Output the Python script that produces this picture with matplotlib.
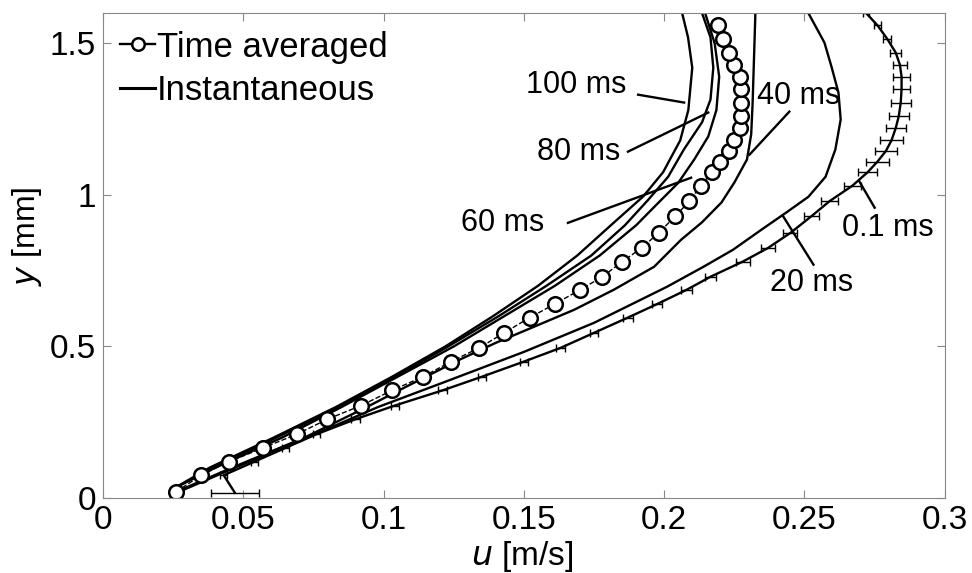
import matplotlib
matplotlib.use("Agg")
import matplotlib.pyplot as plt

plt.rcParams['font.family'] = ['Liberation Sans', 'DejaVu Sans']

# time averaged profile (circles)
avg_y = [0.02, 0.075, 0.12, 0.165, 0.21, 0.26, 0.305, 0.355, 0.40, 0.45, 0.495, 0.545,
         0.595, 0.64, 0.687, 0.73, 0.78, 0.825, 0.875, 0.93, 0.98, 1.03, 1.075, 1.11,
         1.145, 1.18, 1.22, 1.26, 1.305, 1.35, 1.39, 1.43, 1.47, 1.515, 1.56]
avg_u = [0.026, 0.035, 0.045, 0.057, 0.069, 0.080, 0.092, 0.103, 0.114, 0.124, 0.134, 0.143,
         0.152, 0.161, 0.170, 0.178, 0.185, 0.192, 0.198, 0.204, 0.209, 0.213, 0.217, 0.220,
         0.223, 0.225, 0.227, 0.2275, 0.2275, 0.2275, 0.227, 0.225, 0.223, 0.221, 0.219]

# instantaneous profiles
y_01 = [0.017, 0.075, 0.12, 0.165, 0.21, 0.26, 0.305, 0.355, 0.40, 0.45, 0.495, 0.545,
        0.595, 0.64, 0.687, 0.73, 0.78, 0.825, 0.875, 0.93, 0.98, 1.03, 1.075, 1.11,
        1.145, 1.18, 1.22, 1.26, 1.305, 1.35, 1.39, 1.43, 1.47, 1.515, 1.56, 1.60]
u_01 = [0.047, 0.043, 0.054, 0.065, 0.076, 0.090, 0.104, 0.121, 0.135, 0.150, 0.163, 0.175,
        0.187, 0.1975, 0.208, 0.2165, 0.228, 0.237, 0.245, 0.2525, 0.259, 0.267, 0.2725, 0.276,
        0.279, 0.281, 0.2825, 0.2836, 0.2843, 0.2846, 0.2846, 0.284, 0.2825, 0.2795, 0.276, 0.272]
err_01 = [0.0085, 0.0012, 0.0012, 0.0012, 0.0012, 0.0015, 0.0015, 0.0015, 0.0015, 0.0015, 0.0015, 0.0015,
          0.0018, 0.0018, 0.002, 0.002, 0.0025, 0.0025, 0.0025, 0.0025, 0.003, 0.003, 0.0035, 0.004,
          0.004, 0.004, 0.0035, 0.0035, 0.0035, 0.003, 0.003, 0.0025, 0.002, 0.0015, 0.0012, 0.001]

y_20 = [0.02, 0.1, 0.2, 0.3, 0.38, 0.482, 0.578, 0.697, 0.763, 0.819, 0.885, 0.942,
        0.994, 1.06, 1.15, 1.249, 1.338, 1.424, 1.503, 1.60]
u_20 = [0.027, 0.047, 0.073, 0.098, 0.121, 0.150, 0.175, 0.201, 0.214, 0.2245, 0.2346, 0.2435,
        0.2514, 0.2575, 0.261, 0.2629, 0.2621, 0.2596, 0.2571, 0.2514]

y_40 = [0.02, 0.1, 0.2, 0.3, 0.367, 0.456, 0.512, 0.565, 0.621, 0.687, 0.763, 0.852,
        0.91, 0.975, 1.041, 1.117, 1.2, 1.3, 1.45, 1.60]
u_40 = [0.026, 0.046, 0.072, 0.094, 0.108, 0.127, 0.140, 0.1536, 0.1679, 0.182, 0.1964, 0.206,
        0.2135, 0.2204, 0.225, 0.2295, 0.231, 0.2315, 0.232, 0.2325]

y_60 = [0.03, 0.1, 0.2, 0.3, 0.4, 0.5, 0.6, 0.7, 0.8, 0.9, 0.975, 1.04,
        1.117, 1.193, 1.28, 1.39, 1.50, 1.60]
u_60 = [0.025, 0.040, 0.064, 0.085, 0.105, 0.125, 0.143, 0.161, 0.177, 0.190, 0.198, 0.205,
        0.2107, 0.2157, 0.2186, 0.2196, 0.218, 0.2146]

y_80 = [0.03, 0.1, 0.2, 0.3, 0.4, 0.5, 0.6, 0.7, 0.8, 0.9, 0.984, 1.06,
        1.15, 1.24, 1.315, 1.42, 1.52, 1.60]
u_80 = [0.025, 0.039, 0.062, 0.084, 0.104, 0.123, 0.141, 0.158, 0.174, 0.186, 0.1943, 0.2014,
        0.207, 0.2135, 0.2165, 0.2175, 0.2165, 0.2135]

y_100 = [0.03, 0.1, 0.2, 0.3, 0.4, 0.5, 0.6, 0.7, 0.8, 0.9, 0.995, 1.075,
         1.18, 1.28, 1.42, 1.52, 1.60]
u_100 = [0.025, 0.038, 0.061, 0.083, 0.103, 0.122, 0.139, 0.155, 0.169, 0.181, 0.1925, 0.1996,
         0.2057, 0.2086, 0.210, 0.2085, 0.2064]

# labels: text, text position, leader start, leader end
labels = ["100 ms", "80 ms", "60 ms", "40 ms", "0.1 ms", "20 ms"]
label_xy = [(0.1686, 1.364), (0.1696, 1.143), (0.1425, 0.9085), (0.2479, 1.328), (0.2796, 0.892), (0.2525, 0.710)]
leader_a = [(0.1907, 1.331), (0.1871, 1.143), (0.1657, 0.908), (0.2446, 1.275), (0.275, 0.958), (0.2532, 0.770)]
leader_b = [(0.2071, 1.305), (0.2157, 1.272), (0.2096, 1.057), (0.2304, 1.133), (0.2696, 1.044), (0.2425, 0.928)]

fig = plt.figure(figsize=(9.72, 5.73), dpi=100)
ax = fig.add_axes([0.106, 0.131, 0.866, 0.846])

lw = 1.7
for u, y in [(u_20, y_20), (u_40, y_40), (u_60, y_60), (u_80, y_80), (u_100, y_100)]:
    ax.plot(u, y, color='black', lw=lw)

ax.errorbar(u_01, y_01, xerr=err_01, color='black', lw=lw, elinewidth=1.0,
            capsize=3, capthick=1.0)

ax.errorbar(avg_u, avg_y, xerr=0.0015, color='black', lw=1.0, ls='--', elinewidth=1.0,
            capsize=2, marker='o', ms=10.5, mfc='white', mec='black', mew=1.8)

for t, xy, a, b in zip(labels, label_xy, leader_a, leader_b):
    ax.text(xy[0], xy[1], t, fontsize=22, ha='center', va='center')
    ax.plot([a[0], b[0]], [a[1], b[1]], color='black', lw=1.7)

# legend
h1, = ax.plot([], [], color='black', lw=1.7, marker='o', ms=9, mfc='white', mew=1.8)
h2, = ax.plot([], [], color='black', lw=2.2)
ax.legend([h1, h2], ['Time averaged', 'Instantaneous'], loc='upper left', frameon=False,
          fontsize=25, handlelength=1.0, handletextpad=0.05, labelspacing=0.3,
          borderaxespad=0.3, borderpad=0.2)

ax.set_xlim(0, 0.3)
ax.set_ylim(0, 1.6)
ax.set_xticks([0, 0.05, 0.1, 0.15, 0.2, 0.25, 0.3])
ax.set_xticklabels(['0', '0.05', '0.1', '0.15', '0.2', '0.25', '0.3'])
ax.set_yticks([0, 0.5, 1, 1.5])
ax.set_yticklabels(['0', '0.5', '1', '1.5'])
ax.tick_params(direction='in', top=True, right=True, labelsize=24, length=6,
               color='#888888', pad=5)
for s in ax.spines.values():
    s.set_color('#888888')
    s.set_linewidth(0.8)

ax.set_xlabel(r'$\mathit{u}$ [m/s]', fontsize=24)
ax.set_ylabel(r'$\mathit{y}$ [mm]', fontsize=23)
ax.xaxis.set_label_coords(0.498, -0.085)
ax.yaxis.set_label_coords(-0.07, 0.54)

fig.savefig('out.png', dpi=100)
